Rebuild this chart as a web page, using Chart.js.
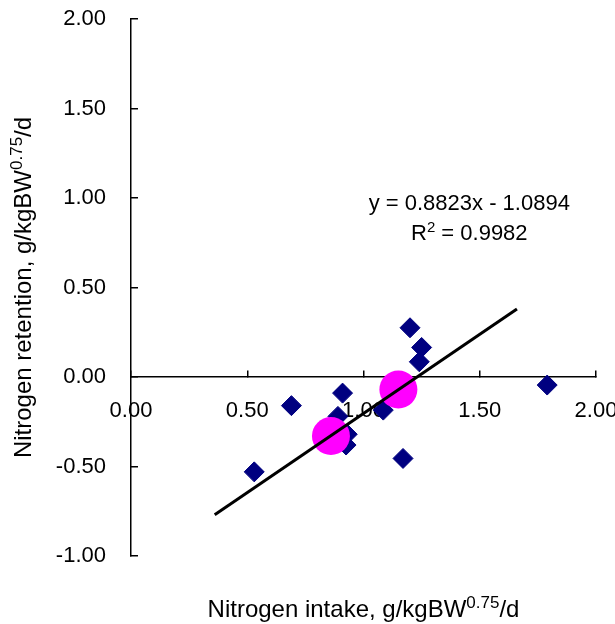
<!DOCTYPE html>
<html>
<head>
<meta charset="utf-8">
<script src="https://cdn.jsdelivr.net/npm/chart.js@4.4.1/dist/chart.umd.min.js"></script>
<style>
  html, body { margin: 0; padding: 0; background: #fff; }
  #wrap { width: 615px; height: 624px; }
</style>
</head>
<body>
<div id="wrap"><canvas id="chart"></canvas></div>
<script>
  // individual observations
  const intakeX    = [0.53, 0.69, 0.91, 0.89, 0.93, 0.925, 1.085, 1.17, 1.20, 1.25, 1.24, 1.79];
  const retentionY = [-0.53, -0.16, -0.09, -0.22, -0.32, -0.38, -0.185, -0.455, 0.275, 0.165, 0.085, -0.045];
  // group means (magenta)
  const meanX = [0.86, 1.15];
  const meanY = [-0.33, -0.07];
  // linear trend line end points
  const trendX = [0.36, 1.66];
  const trendY = [-0.77, 0.38];
  // axis ranges
  const xRange = [0, 2];
  const yRange = [-1, 2];
  const tickStep = 0.5;
  // equation label anchor (data units) and text
  const eqAnchor = { x: 1.455, y: 0.935 };
  const eqLine1 = [{ t: 'y = 0.8823x - 1.0894' }];
  const eqLine2 = [{ t: 'R' }, { t: '2', sup: true }, { t: ' = 0.9982' }];
  const xTitle = [{ t: 'Nitrogen intake, g/kgBW' }, { t: '0.75', sup: true }, { t: '/d' }];
  const yTitle = [{ t: 'Nitrogen retention, g/kgBW' }, { t: '0.75', sup: true }, { t: '/d' }];

  const FONT = "'Liberation Sans', Arial, sans-serif";

  const toPts = (xs, ys) => xs.map((x, i) => ({ x, y: ys[i] }));

  function richText(ctx, parts, cx, y, size, supSize, rise) {
    let total = 0;
    const widths = parts.map(p => {
      ctx.font = (p.sup ? supSize : size) + 'px ' + FONT;
      const w = ctx.measureText(p.t).width;
      total += w;
      return w;
    });
    let x = cx - total / 2;
    ctx.textAlign = 'left';
    ctx.textBaseline = 'alphabetic';
    parts.forEach((p, i) => {
      ctx.font = (p.sup ? supSize : size) + 'px ' + FONT;
      ctx.fillText(p.t, x, p.sup ? y - rise : y);
      x += widths[i];
    });
  }

  const textPlugin = {
    id: 'textPlugin',
    afterDraw(chart) {
      const { ctx, chartArea: a, scales } = chart;
      ctx.save();
      ctx.fillStyle = '#000';
      // axis titles
      richText(ctx, xTitle, (a.left + a.right) / 2, 617, 24, 17, 9);
      ctx.save();
      ctx.translate(31, (a.top + a.bottom) / 2);
      ctx.rotate(-Math.PI / 2);
      richText(ctx, yTitle, 0, 0, 24, 17, 9);
      ctx.restore();
      // trend equation
      const ex = scales.x.getPixelForValue(eqAnchor.x);
      const ey = scales.y.getPixelForValue(eqAnchor.y);
      richText(ctx, eqLine1, ex, ey, 22, 15, 8);
      richText(ctx, eqLine2, ex, ey + 30, 22, 15, 8);
      ctx.restore();
    }
  };

  const fmt = v => Number(v).toFixed(2);

  new Chart(document.getElementById('chart'), {
    type: 'scatter',
    data: {
      datasets: [
        {
          label: 'Trend',
          data: toPts(trendX, trendY),
          showLine: true,
          borderColor: '#000',
          borderWidth: 3,
          pointRadius: 0,
          order: 0
        },
        {
          label: 'Means',
          data: toPts(meanX, meanY),
          pointStyle: 'circle',
          pointRadius: 19,
          backgroundColor: '#FF00FF',
          borderColor: '#FF00FF',
          borderWidth: 0,
          order: 1
        },
        {
          label: 'Observed',
          data: toPts(intakeX, retentionY),
          pointStyle: 'rectRot',
          pointRadius: 10,
          backgroundColor: '#000080',
          borderColor: '#000080',
          borderWidth: 1,
          order: 2
        }
      ]
    },
    options: {
      responsive: true,
      maintainAspectRatio: false,
      animation: false,
      layout: { padding: { top: 19, right: 18, bottom: 68, left: 0 } },
      plugins: {
        legend: { display: false },
        tooltip: { enabled: false }
      },
      scales: {
        x: {
          type: 'linear',
          position: { y: 0 },
          min: xRange[0],
          max: xRange[1],
          z: 1,
          afterFit(s) { s.paddingLeft = 0; s.paddingRight = 0; },
          border: { display: true, color: '#000', width: 1.5 },
          grid: { drawOnChartArea: false, drawTicks: true, tickLength: -7, color: '#000', lineWidth: 1.5 },
          ticks: {
            stepSize: tickStep,
            padding: 28,
            color: '#000',
            maxRotation: 0,
            autoSkip: false,
            font: { family: FONT, size: 22 },
            callback: fmt
          }
        },
        y: {
          type: 'linear',
          position: 'left',
          min: yRange[0],
          max: yRange[1],
          afterFit(s) { s.width = 131; s.paddingTop = 0; s.paddingBottom = 0; },
          border: { display: true, color: '#000', width: 1.5 },
          grid: { drawOnChartArea: false, drawTicks: true, tickLength: -7, color: '#000', lineWidth: 1.5 },
          ticks: {
            stepSize: tickStep,
            padding: 32,
            color: '#000',
            font: { family: FONT, size: 22 },
            callback: fmt
          }
        }
      }
    },
    plugins: [textPlugin]
  });
</script>
</body>
</html>
